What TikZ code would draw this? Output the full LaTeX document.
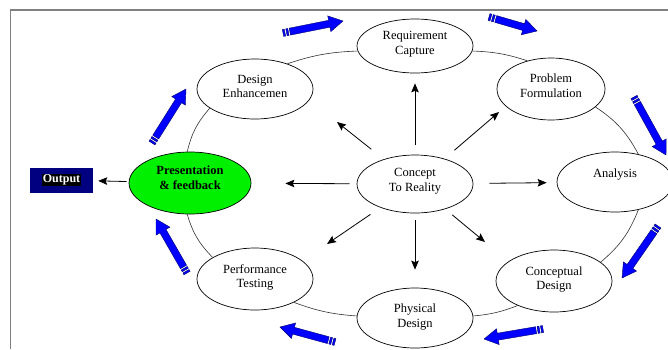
\documentclass[tikz,border=0pt]{standalone}
\usepackage{fontspec}
\setmainfont{Liberation Serif}
\usetikzlibrary{shapes.geometric,arrows.meta,calc}
\definecolor{ringc}{RGB}{50,50,50}
\definecolor{bluef}{RGB}{0,0,255}
\definecolor{bluel}{RGB}{0,0,110}
\definecolor{navyc}{RGB}{0,0,128}
\definecolor{greenf}{RGB}{0,240,0}
\definecolor{framec}{RGB}{128,128,128}
\tikzset{
  stage/.style={ellipse, draw=black, line width=0.7pt, fill=white, inner sep=0pt,
    minimum width=116pt, minimum height=60pt, align=center,
    font=\fontsize{12.5}{14.5}\selectfont},
  ring/.style={draw=ringc, line width=0.6pt},
  carrow/.style={-{Stealth[length=9pt,width=7.5pt,inset=1.5pt]}, line width=0.8pt},
  bluearrow/.style={fill=bluef, draw=bluel, line width=0.4pt, line join=miter},
}
\newcommand\twolines[2][2pt]{\raisebox{#1}[\height][\depth]{\begin{tabular}{@{}c@{}}#2\end{tabular}}}
\newcommand\bluearr[2]{%
  \filldraw[bluearrow] ($(#1)!7pt!(#2)!3.5pt!90:(#2)$) -- ($(#2)!14pt!(#1)!3.5pt!-90:(#1)$)
    -- ($(#2)!14pt!(#1)!8pt!-90:(#1)$) -- (#2) -- ($(#2)!14pt!(#1)!8pt!90:(#1)$)
    -- ($(#2)!14pt!(#1)!3.5pt!90:(#1)$) -- ($(#1)!7pt!(#2)!3.5pt!-90:(#2)$) -- cycle;
  \filldraw[bluearrow] ($(#1)!0pt!(#2)!3.5pt!90:(#2)$) -- ($(#1)!2pt!(#2)!3.5pt!90:(#2)$)
    -- ($(#1)!2pt!(#2)!3.5pt!-90:(#2)$) -- ($(#1)!0pt!(#2)!3.5pt!-90:(#2)$) -- cycle;
  \filldraw[bluearrow] ($(#1)!3.5pt!(#2)!3.5pt!90:(#2)$) -- ($(#1)!5.5pt!(#2)!3.5pt!90:(#2)$)
    -- ($(#1)!5.5pt!(#2)!3.5pt!-90:(#2)$) -- ($(#1)!3.5pt!(#2)!3.5pt!-90:(#2)$) -- cycle;
}
\begin{document}
\begin{tikzpicture}[x=1pt, y=-1pt]
\useasboundingbox (0,0) rectangle (668,349);
\fill[white] (0,0) rectangle (668,349);
% frame
\draw[framec, line width=1.2pt] (668,10) -- (10.5,10) -- (10.5,349);

% stages
\node[stage, minimum height=54pt] (req) at (415,46) {\twolines{Requirement\\Capture}};
\node[stage, minimum width=108pt, minimum height=62pt] (prob) at (551,89) {\twolines{Problem\\Formulation}};
\node[stage] (ana) at (615,182) {\raisebox{5pt}[0pt][0pt]{Analysis}};
\node[stage, minimum height=62pt] (conc) at (554,281) {\twolines[1.5pt]{Conceptual\\Design}};
\node[stage] (phys) at (415,318) {\twolines[1pt]{Physical\\Design}};
\node[stage, minimum height=62pt] (perf) at (255,279) {\twolines[1.5pt]{Performance\\Testing}};
\node[stage, fill=greenf, minimum width=122pt, minimum height=62pt, font=\fontsize{12.5}{14.5}\selectfont\bfseries] (pres) at (190,183) {\twolines[4pt]{Presentation\\\& feedback}};
\node[stage] (des) at (255,89) {\twolines[1.5pt]{Design\\Enhancemen}};
\node[stage, minimum height=58pt] (concept) at (415,184) {\twolines[3pt]{Concept\\To Reality}};

% output
\node[fill=navyc, minimum width=63pt, minimum height=25pt, inner sep=0pt,
  font=\fontsize{12}{14}\selectfont\bfseries] (out) at (61.5,180)
  {\setlength{\fboxsep}{0.6pt}\colorbox{black}{\textcolor{white}{Output}}};

% ring
\draw[ring] (des.38) to[bend left=8] (req.185);
\draw[ring] (req.355) to[bend left=8] (prob.130);
\draw[ring] (prob.-22) to[bend left=14] (ana.50);
\draw[ring] (ana.-50) to[bend left=14] (conc.22);
\draw[ring] (conc.214) to[bend left=8] (phys.2);
\draw[ring] (phys.178) to[bend left=8] (perf.-31);
\draw[ring] (perf.153) to[bend left=14] (pres.265);
\draw[ring] (pres.95) to[bend left=14] (des.203);

% central arrows
\coordinate (tUL) at (337,122);
\coordinate (tUR) at (499,112);
\coordinate (tDL) at (327,244);
\coordinate (tDR) at (485,242);
\draw[carrow, shorten <=10pt, shorten >=10pt] (concept) -- (req);
\draw[carrow, shorten <=7pt, shorten >=34pt] (concept) -- (pres);
\draw[carrow, shorten <=16pt, shorten >=10pt] (concept) -- (ana);
\draw[carrow, shorten <=7pt, shorten >=18pt] (concept) -- (phys);
\draw[carrow, shorten <=16pt] (concept) -- (tUL);
\draw[carrow, shorten <=13pt] (concept) -- (tUR);
\draw[carrow, shorten <=12pt] (concept) -- (tDL);
\draw[carrow, shorten <=9pt] (concept) -- (tDR);
\draw[carrow, shorten <=2pt, shorten >=5pt] (pres) -- (out);

% blue flow arrows
\coordinate (b1t) at (283,33);  \coordinate (b1h) at (343,21);
\coordinate (b2t) at (489,17);  \coordinate (b2h) at (537,31);
\coordinate (b3t) at (634,97);  \coordinate (b3h) at (666,155);
\coordinate (b4t) at (658,226); \coordinate (b4h) at (622,278);
\coordinate (b5t) at (543,329); \coordinate (b5h) at (484,339);
\coordinate (b6t) at (335,342); \coordinate (b6h) at (280,327);
\coordinate (b7t) at (187,273); \coordinate (b7h) at (156,219);
\coordinate (b8t) at (152,143); \coordinate (b8h) at (186,89);
\bluearr{b1t}{b1h}
\bluearr{b2t}{b2h}
\bluearr{b3t}{b3h}
\bluearr{b4t}{b4h}
\bluearr{b5t}{b5h}
\bluearr{b6t}{b6h}
\bluearr{b7t}{b7h}
\bluearr{b8t}{b8h}
\end{tikzpicture}
\end{document}
